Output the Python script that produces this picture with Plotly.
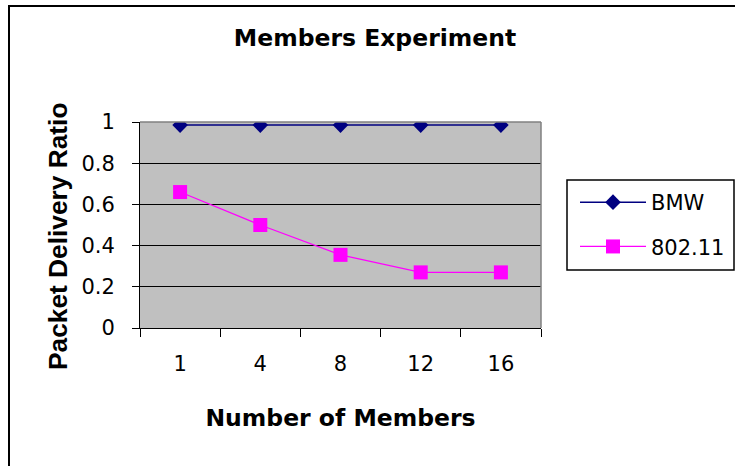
import plotly.graph_objects as go

members = ["1", "4", "8", "12", "16"]
bmw = [0.985, 0.985, 0.985, 0.985, 0.985]
wifi = [0.66, 0.50, 0.355, 0.27, 0.27]
y_ticks = [0, 0.2, 0.4, 0.6, 0.8, 1]
y_ticktext = ["0", "0.2", "0.4", "0.6", "0.8", "1"]

FONT = "DejaVu Sans, Arial, sans-serif"
BOLD_H = "DejaVu Sans, Arial, sans-serif"
BOLD_V = "Liberation Sans, Arial, sans-serif"
W, H = 735, 466
L, R, T, B = 140, 541, 122, 328

def px(x):
    return (x - L) / (R - L)

def py(y):
    return (B - y) / (B - T)

fig = go.Figure()
fig.add_trace(go.Scatter(
    x=members, y=bmw, name="BMW", mode="lines+markers", legendgroup="a",
    line=dict(color="#000080", width=1.5),
    marker=dict(symbol="diamond", size=12, color="#000080"),
))
fig.add_trace(go.Scatter(
    x=members, y=wifi, name="802.11", mode="lines+markers", legendgroup="b",
    line=dict(color="#FF00FF", width=1.2),
    marker=dict(symbol="square", size=14, color="#FF00FF"),
))

fig.update_layout(
    width=W, height=H,
    margin=dict(l=L, r=W - R, t=T, b=H - B, pad=0, autoexpand=False),
    paper_bgcolor="white",
    plot_bgcolor="#C0C0C0",
    font=dict(family=FONT, size=21, color="black"),
    title=dict(text="<b>Members Experiment</b>", x=px(375), xref="paper", xanchor="center",
               y=1 - 38 / H, yanchor="middle", font=dict(family=BOLD_H, size=23.5)),
    showlegend=True,
    legend=dict(x=px(575), y=py(182), xanchor="left", yanchor="top",
                bgcolor="rgba(0,0,0,0)", borderwidth=0, tracegroupgap=14,
                itemwidth=66, font=dict(size=21)),
    xaxis=dict(type="category", range=[-0.5, 4.5], showgrid=False, showline=True,
               linecolor="black", linewidth=1,
               ticks="outside", tickson="boundaries", ticklen=8, tickcolor="black",
               ticklabelstandoff=17,
               title=dict(text="<b>Number of Members</b>", standoff=34,
                          font=dict(family=BOLD_H, size=23.5))),
    yaxis=dict(range=[0, 1], tickvals=y_ticks, ticktext=y_ticktext, showgrid=True,
               gridcolor="black", gridwidth=1, showline=True, linecolor="black", linewidth=1,
               ticks="outside", ticklen=7, tickcolor="black", ticklabelstandoff=13,
               zeroline=False),
)

fig.add_annotation(text="<b>Packet Delivery Ratio</b>", textangle=-90, xref="paper", yref="paper",
                   x=px(58), y=py(236), xanchor="center", yanchor="middle", showarrow=False,
                   font=dict(family=BOLD_V, size=26.3))

# plot area top/right gray border
fig.add_shape(type="line", xref="paper", yref="paper", x0=0, x1=1, y0=1, y1=1,
              line=dict(color="#808080", width=1.5))
fig.add_shape(type="line", xref="paper", yref="paper", x0=1, x1=1, y0=0, y1=1,
              line=dict(color="#808080", width=1.5))
# legend box
fig.add_shape(type="rect", xref="paper", yref="paper", x0=px(567), x1=px(734), y0=py(270), y1=py(180),
              line=dict(color="black", width=1.5))
# chart border
fig.add_shape(type="rect", xref="paper", yref="paper", x0=px(9), x1=px(760), y0=py(490), y1=py(6),
              line=dict(color="black", width=2))

fig.write_html("out.html", config={"displayModeBar": False},
               post_script="document.body.style.margin='0';")
